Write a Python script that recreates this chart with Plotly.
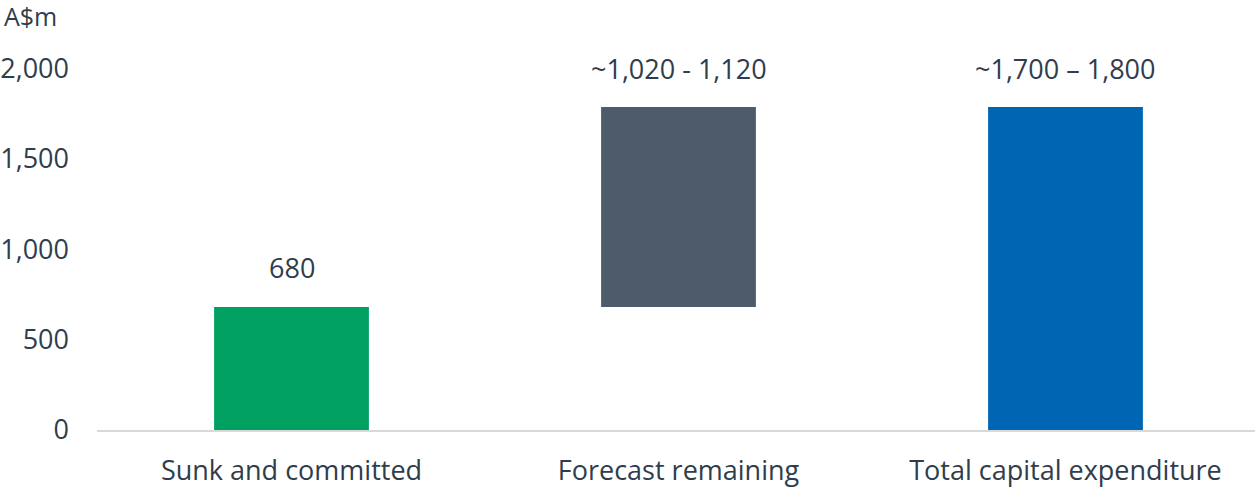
import plotly.graph_objects as go

categories = ["Sunk and committed", "Forecast remaining", "Total capital expenditure"]
bar_base = [0, 680, 0]
bar_height = [680, 1105, 1785]
bar_colors = ["#00A060", "#4D5B6B", "#0066B3"]
value_labels = ["680", "~1,020 - 1,120", "~1,700 \u2013 1,800"]
y_ticks = [0, 500, 1000, 1500, 2000]
y_tick_text = ["0", "500", "1,000", "1,500", "2,000"]

FONT = "Open Sans"
TXT = "#2F3D4C"
FS = 27

fig = go.Figure()
fig.add_trace(go.Bar(
    x=categories, y=bar_height, base=bar_base,
    marker=dict(color=bar_colors, line=dict(width=0)),
    width=0.4, hoverinfo="skip",
))

for c, b, h, t in zip(categories, bar_base, bar_height, value_labels):
    fig.add_annotation(x=c, y=b + h, xref="x", yref="y", text=t, showarrow=False,
                       yanchor="middle", yshift=39,
                       font=dict(family=FONT, size=FS, color=TXT))

fig.add_annotation(x=0, y=1, xref="paper", yref="paper", text="A$m", showarrow=False,
                   xanchor="left", yanchor="middle", xshift=-95, yshift=16,
                   font=dict(family=FONT, size=FS - 2, color=TXT))

fig.update_layout(
    width=1255, height=491,
    margin=dict(l=97, r=0, t=32, b=61),
    plot_bgcolor="white", paper_bgcolor="white",
    showlegend=False,
    font=dict(family=FONT, size=FS, color=TXT),
    xaxis=dict(range=[-0.5026, 2.4897], showline=True, linecolor="#D9D9D9", linewidth=1.5,
               showgrid=False, zeroline=False, ticks="", ticklabelstandoff=16,
               tickfont=dict(family=FONT, size=FS, color=TXT)),
    yaxis=dict(range=[0, 2200], tickvals=y_ticks, ticktext=y_tick_text, showgrid=False,
               zeroline=False, showline=False, ticks="", ticklabelstandoff=27,
               tickfont=dict(family=FONT, size=FS, color=TXT)),
)

fig.write_html("out.html", config={"displayModeBar": False},
               post_script="document.body.style.margin='0';")
